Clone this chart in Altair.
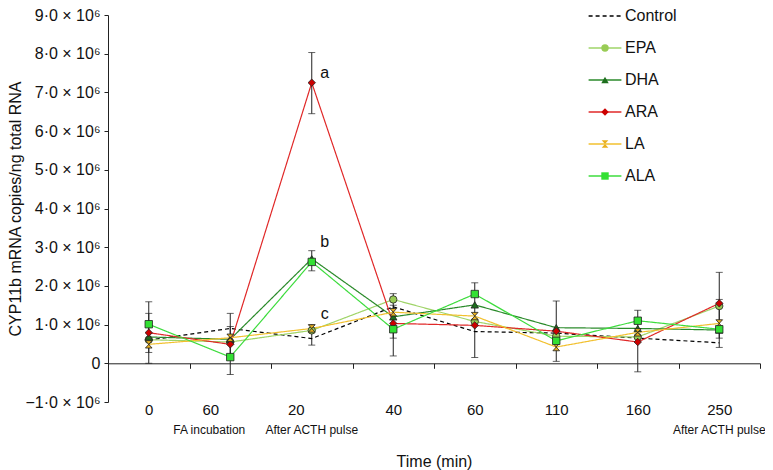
import json
import altair as alt
import pandas as pd

# ---------------- data ----------------
series = ["Control", "EPA", "DHA", "ARA", "LA", "ALA"]
slot_labels = ["0", "60", "20", "40", "60", "110", "160", "250"]
slots = list(range(len(slot_labels)))

# values in units of 10^6 copies/ng total RNA
control = [0.60, 0.90, 0.64, 1.46, 0.82, 0.78, 0.65, 0.53]
epa = [0.61, 0.55, 0.85, 1.65, 1.08, 0.70, 0.68, 1.48]
dha = [0.68, 0.62, 2.70, 1.20, 1.51, 0.92, 0.90, 0.86]
ara = [0.79, 0.49, 7.25, 1.03, 0.98, 0.83, 0.55, 1.55]
la = [0.49, 0.66, 0.90, 1.32, 1.22, 0.42, 0.80, 1.03]
ala = [1.01, 0.16, 2.62, 0.88, 1.79, 0.58, 1.10, 0.88]
series_values = [control, epa, dha, ara, la, ala]

err_slot = [0, 0, 1, 1, 2, 2, 2, 3, 3, 4, 5, 6, 7, 7]
err_low = [0.00, 0.28, -0.29, 0.20, 6.45, 2.39, 0.47, 0.19, 0.65, 0.15, 0.05, -0.22, 0.41, 0.65]
err_high = [1.59, 1.29, 1.29, 0.95, 8.03, 2.91, 1.00, 1.80, 1.50, 2.08, 1.61, 1.37, 2.35, 1.65]

letters = ["a", "b", "c"]
letter_slot = [2, 2, 2]
letter_value = [7.50, 3.13, 1.28]

note_fa_text = ["FA incubation"]
note_fa_slot = [1]
note_acth_text = ["After ACTH pulse", "After ACTH pulse"]
note_acth_slot = [2, 7]

y_ticks = list(range(-1, 10))

# ---------------- styles ----------------
line_colors = ["#000000", "#9fd468", "#2a8a2a", "#e02828", "#f2c02e", "#3ddc3d"]
fill_colors = ["#ffffff", "#99cc55", "#1d6e1d", "#cc0000", "#e8b020", "#33e033"]
shapes = ["M0,0", "circle", "triangle-up", "diamond", "M-0.9,-1L0.9,-1L-0.9,1L0.9,1Z", "square"]
dashes = [[4, 3], [1, 0], [1, 0], [1, 0], [1, 0], [1, 0]]

marker_keys = [s + " marker" for s in series]

rows = []
for s, vals in zip(series, series_values):
    for i, v in enumerate(vals):
        rows.append({"series": s, "slot": slots[i], "value": v})
df = pd.DataFrame(rows)
df_pts = df[df["series"] != "Control"].copy()
df_pts["marker"] = df_pts["series"] + " marker"

err_df = pd.DataFrame({"slot": err_slot, "low": err_low, "high": err_high})
letter_df = pd.DataFrame({"slot": letter_slot, "value": letter_value, "text": letters})
fa_df = pd.DataFrame({"slot": note_fa_slot, "text": note_fa_text})
acth_df = pd.DataFrame({"slot": note_acth_slot, "text": note_acth_text})

PLOT_W, PLOT_H = 652, 387
unit_px = PLOT_H / (max(y_ticks) - min(y_ticks))

x_axis = alt.Axis(
    title="Time (min)",
    offset=-unit_px,
    tickBand="extent",
    labelExpr=json.dumps(slot_labels).replace('"', "'") + "[datum.value]",
    labelAngle=0,
    labelFontSize=15,
    labelPadding=34,
    labelOffset={"condition": [{"test": "datum.value == 1", "value": -20},
                               {"test": "datum.value == 2", "value": -16}], "value": 0},
    tickSize=5,
    titleFontSize=16,
    titleFontWeight="normal",
    titlePadding=36,
    domainColor="#222",
    tickColor="#222",
    labelColor="#111",
    titleColor="#111",
)

y_axis = alt.Axis(
    title="CYP11b mRNA copies/ng total RNA",
    values=y_ticks,
    labelExpr="datum.value == 0 ? '0' : replace(format(datum.value, '.1f'), '.', '·') + ' × 10⁶'",
    grid=False,
    tickSize=4,
    labelFontSize=16,
    labelPadding=4,
    titleFontSize=16,
    titleFontWeight="normal",
    titlePadding=1,
    domainColor="#222",
    tickColor="#222",
    labelColor="#111",
    titleColor="#111",
)


def xenc():
    return alt.X("slot:O",
                 scale=alt.Scale(type="band", domain=slots, paddingInner=0, paddingOuter=0),
                 bandPosition=0.5, axis=x_axis)


def yenc(field):
    return alt.Y(f"{field}:Q", scale=alt.Scale(domain=[min(y_ticks), max(y_ticks)], nice=False, zero=False),
                 axis=y_axis)


leg_lines = alt.Legend(title=None, orient="none", legendX=489, legendY=-7,
                       symbolType="M-4.1,0L4.1,0", symbolSize=64, symbolStrokeWidth=1.3,
                       labelFontSize=16, labelOffset=12, rowPadding=16, padding=0,
                       labelColor="#111")
leg_marks = alt.Legend(title=None, orient="none", legendX=489, legendY=-7,
                       symbolSize=55, symbolStrokeColor="#222", symbolStrokeWidth=0.8,
                       symbolOpacity=1, labelFontSize=16, labelOpacity=0, rowPadding=16,
                       padding=0, labelExpr="''")

rule = alt.Chart(err_df).mark_rule(color="#222", strokeWidth=1).encode(
    x=xenc(), y=yenc("low"), y2="high")
cap_lo = alt.Chart(err_df).mark_tick(color="#222", size=7, thickness=1, orient="horizontal").encode(
    x=xenc(), y=yenc("low"))
cap_hi = alt.Chart(err_df).mark_tick(color="#222", size=7, thickness=1, orient="horizontal").encode(
    x=xenc(), y=yenc("high"))

lines = alt.Chart(df).mark_line(strokeWidth=1.2).encode(
    x=xenc(), y=yenc("value"),
    color=alt.Color("series:N", scale=alt.Scale(domain=series, range=line_colors), legend=leg_lines),
    strokeDash=alt.StrokeDash("series:N", scale=alt.Scale(domain=series, range=dashes), legend=leg_lines),
)

points = alt.Chart(df_pts).mark_point(filled=True, size=55, stroke="#222", strokeWidth=0.8, opacity=1).encode(
    x=xenc(), y=yenc("value"),
    shape=alt.Shape("marker:N", scale=alt.Scale(domain=marker_keys, range=shapes), legend=leg_marks),
    fill=alt.Fill("marker:N", scale=alt.Scale(domain=marker_keys, range=fill_colors), legend=leg_marks),
)

letter_text = alt.Chart(letter_df).mark_text(fontSize=16, dx=13, align="center", color="#111").encode(
    x=xenc(), y=yenc("value"), text="text:N")

fa_text = alt.Chart(fa_df).mark_text(fontSize=12, dx=-21, baseline="middle", color="#111").encode(
    x=xenc(), y=alt.value(415), text="text:N")
acth_text = alt.Chart(acth_df).mark_text(fontSize=12, baseline="middle", color="#111").encode(
    x=xenc(), y=alt.value(415), text="text:N")

chart = alt.layer(rule, cap_lo, cap_hi, lines, points, letter_text, fa_text, acth_text).properties(
    width=PLOT_W, height=PLOT_H,
    padding={"left": 100, "top": 7, "right": 5, "bottom": 68},
    autosize=alt.AutoSizeParams(type="none"),
).configure(font="Liberation Sans").configure_view(stroke=None)

chart.save("out.html", embed_options={"renderer": "svg", "actions": False})
